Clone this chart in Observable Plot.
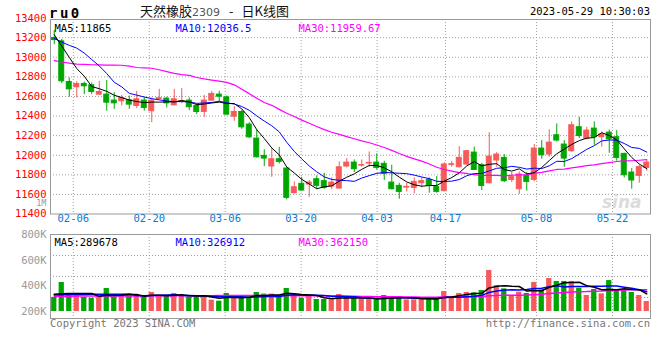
<!DOCTYPE html>
<html><head><meta charset="utf-8">
<script src="https://cdn.jsdelivr.net/npm/d3@7"></script>
<script src="https://cdn.jsdelivr.net/npm/@observablehq/plot@0.6"></script>
<style>
html,body{margin:0;padding:0;background:#fff;}
#wrap{position:relative;width:660px;height:360px;overflow:hidden;font-family:"DejaVu Sans Mono",monospace;}
.abs{position:absolute;white-space:nowrap;line-height:1;}
svg{overflow:visible;}
</style></head><body>
<div id="wrap">
  <div class="abs" style="left:602px;top:192px;font:italic bold 17px 'DejaVu Sans';color:#dcdcdc">sina</div>
  <div id="price" class="abs" style="left:0;top:0"></div>
  <div id="vol" class="abs" style="left:0;top:222px"></div>
  <div class="abs" style="left:49px;top:5px;font:bold 14px 'DejaVu Sans Mono';letter-spacing:2.5px;color:#000">ru0</div>
  <div class="abs" style="left:140px;top:4px;font-size:13px;font-family:'Noto Sans CJK SC';color:#111">天然橡胶<span style="font-family:'DejaVu Sans';font-size:11px;color:#555">2309</span><span style="margin:0 8px 0 9px">-</span>日K线图</div>
  <div class="abs" style="right:10px;top:6px;font-size:10.5px;color:#000">2023-05-29 10:30:03</div>
  <div class="abs" style="left:50px;top:318px;font-size:10.5px;color:#777">Copyright 2023 SINA.COM</div>
  <div class="abs" style="right:10px;top:318px;font-size:10.5px;color:#777">http://finance.sina.com.cn</div>
</div>
<script>
const dates = ["02-01","02-02","02-03","02-06","02-07","02-08","02-09","02-10","02-13","02-14","02-15","02-16","02-17","02-20","02-21","02-22","02-23","02-24","02-27","02-28",
"03-01","03-02","03-03","03-06","03-07","03-08","03-09","03-10","03-13","03-14","03-15","03-16","03-17","03-20","03-21","03-22","03-23","03-24","03-27","03-28","03-29","03-30","03-31",
"04-03","04-04","04-06","04-07","04-10","04-11","04-12","04-13","04-14","04-17","04-18","04-19","04-20","04-21","04-24","04-25","04-26","04-27","04-28",
"05-04","05-05","05-08","05-09","05-10","05-11","05-12","05-15","05-16","05-17","05-18","05-19","05-22","05-23","05-24","05-25","05-26","05-29"];
const open = [13197,13163,12748,12694,12728,12714,12619,12619,12558,12551,12564,12503,12558,12449,12575,12578,12510,12544,12558,12503,
12442,12558,12619,12591,12394,12442,12313,12170,11993,11885,11959,11864,11612,11708,11701,11755,11735,11680,11660,11885,
11925,11894,11915,11925,11912,11721,11687,11670,11667,11714,11748,11674,11633,11902,11878,11905,12027,11898,11714,11946,
11973,11748,11653,11789,11748,12068,12007,12204,12109,12041,12286,12170,12272,12184,12231,12184,12014,11823,11789,11871];
const high = [13275,13183,12789,12748,12748,12738,12755,12762,12639,12612,12605,12653,12592,12585,12673,12592,12673,12680,12585,12524,
12612,12653,12653,12605,12497,12456,12333,12259,12055,12068,12081,11877,11728,11775,11742,11790,11816,11769,11932,11966,
11952,11952,12034,12014,11939,11898,11714,11714,11769,11769,11769,11782,11925,11939,12088,12048,12082,11918,12231,12027,
12007,11823,11830,11823,12109,12150,12258,12320,12150,12340,12388,12286,12340,12238,12258,12252,12020,11864,11898,11946];
const low = [13129,12731,12592,12585,12619,12619,12612,12449,12469,12503,12469,12476,12449,12333,12564,12483,12503,12527,12456,12415,
12387,12551,12544,12408,12347,12265,12170,11973,11885,11775,11912,11545,11606,11633,11571,11653,11653,11647,11653,11871,
11823,11878,11878,11850,11742,11646,11551,11626,11606,11667,11612,11612,11626,11878,11871,11898,11844,11640,11708,11878,
11721,11721,11599,11633,11728,11959,11980,12136,11878,12027,12170,12156,12102,12082,12020,11939,11769,11653,11714,11837];
const close = [13176,12755,12673,12728,12704,12646,12646,12537,12530,12585,12517,12571,12483,12558,12582,12530,12571,12551,12490,12442,
12558,12626,12598,12415,12442,12285,12183,11979,11966,11959,11932,11565,11673,11640,11721,11688,11667,11721,11877,11925,
11857,11900,11922,11871,11810,11653,11626,11677,11728,11735,11687,11626,11905,11908,11973,12041,11850,11687,11986,12007,
11735,11776,11803,11728,12068,12000,12129,12150,11966,12306,12197,12252,12184,12211,12163,11973,11796,11742,11878,11925];
const volume = [310000,427000,338000,323000,310000,304000,317000,380000,312000,325000,333000,317000,312000,349000,320000,317000,341000,325000,312000,312000,
325000,289000,281000,341000,312000,310000,310000,349000,336000,336000,315000,380000,328000,304000,317000,294000,294000,291000,333000,312000,
302000,294000,294000,291000,325000,312000,317000,291000,291000,291000,307000,307000,356000,310000,341000,349000,346000,364000,521000,403000,
377000,325000,351000,341000,427000,369000,458000,435000,435000,435000,382000,325000,372000,338000,442000,372000,364000,349000,325000,278000];
// moving-average values before enough history exists
const ma5Head = [13230,13115,13000,12885];
const ma10Head = [13193,13155,13122,13094,13043,12977,12912,12834,12745];
const ma30Head = [12966,12952,12940,12931,12927,12924,12922,12921,12920,12919,12910,12896,12893,12888,12873,12854,12836,12823,12815,12794,12779,12767,12756,12744,12719,12673,12629,12582,12538];
const vma5Head = [335000,338000,340000,340000];
const vma10Head = [330000,331000,332000,333000,333000,334000,334000,334000,335000];
const vma30Head = [320000,320000,320000,321000,321000,321000,321000,322000,322000,322000,322000,322000,323000,323000,323000,323000,323000,324000,324000,324000,324000,324000,325000,325000,325000,325000,325000,325000,326000];
const priceTicks = [13400,13200,13000,12800,12600,12400,12200,12000,11800,11600,11400];
const priceGrid = [13200,13000,12800,12600,12400,12200,12000,11800,11600];
const volTicks = [800000,600000,400000,200000];
const volTickText = ["800K","600K","400K","200K"];
const tickDates = ["02-06","02-20","03-06","03-20","04-03","04-17","05-08","05-22"];
const priceLegend = ["MA5:11865","MA10:12036.5","MA30:11959.67"];
const volLegend = ["MA5:289678","MA10:326912","MA30:362150"];

const RED = "#f65a5a", GREEN = "#00a600", GRID = "#a0a0a0", FRAME = "#999";
const LEG_COLORS = ["#000", "#0000ff", "#ff00ff"];
const LEG_DX = [4, 125, 248];
const n = dates.length;
function ma(vals, k, head) { return vals.map((v, i) => i < k - 1 ? head[i] : d3.mean(vals.slice(i - k + 1, i + 1))); }
const m5 = ma(close, 5, ma5Head), m10 = ma(close, 10, ma10Head), m30 = ma(close, 30, ma30Head);
const v5 = ma(volume, 5, vma5Head), v10 = ma(volume, 10, vma10Head), v30 = ma(volume, 30, vma30Head);
const rows = dates.map((d, i) => ({i, d, o: open[i], h: high[i], l: low[i], c: close[i], v: volume[i],
  col: close[i] >= open[i] ? RED : GREEN, m5: m5[i], m10: m10[i], m30: m30[i], v5: v5[i], v10: v10[i], v30: v30[i]}));
// the date grid of the original is spaced on n-1 slots across the full width
const gridX = d => dates.indexOf(d) * n / (n - 1) - 0.5;
const xScale = {type: "linear", domain: [-0.5, n - 0.5], axis: null};
const font = "DejaVu Sans Mono";
const legendMarks = (labels, dy) => labels.map((t, i) => Plot.text([t], {frameAnchor: "top-left", dx: LEG_DX[i], dy, textAnchor: "start", fill: LEG_COLORS[i], fontSize: 10.5, text: d => d}));

const price = Plot.plot({
  width: 660, height: 230, marginLeft: 50, marginRight: 10, marginTop: 19, marginBottom: 16.5,
  style: {fontFamily: font, background: "transparent", overflow: "visible"},
  x: xScale,
  y: {domain: [11400, 13386], axis: null},
  color: {type: "identity"},
  marks: [
    Plot.ruleY(priceGrid, {stroke: GRID, strokeDasharray: "1,2"}),
    Plot.ruleX(tickDates, {x: gridX, stroke: GRID, strokeDasharray: "1,2"}),
    Plot.ruleX(rows, {x: "i", y1: "l", y2: "h", stroke: "col", strokeWidth: 1}),
    Plot.rect(rows, {x1: d => d.i - 0.33, x2: d => d.i + 0.33, y1: "o", y2: "c", fill: "col", stroke: "col", strokeWidth: 1}),
    Plot.line(rows, {x: "i", y: "m30", stroke: "#ff00ff", strokeWidth: 1.2}),
    Plot.line(rows, {x: "i", y: "m10", stroke: "#0000ff", strokeWidth: 1}),
    Plot.line(rows, {x: "i", y: "m5", stroke: "#000", strokeWidth: 1}),
    Plot.frame({stroke: FRAME}),
    Plot.text(priceTicks, {y: d => d, frameAnchor: "left", dx: -4, textAnchor: "end", fill: "#ff0000", fontSize: 10.5, text: d => String(d)}),
    Plot.text(tickDates, {x: gridX, frameAnchor: "bottom", dy: 8, fill: "#0a78d0", fontSize: 10.5, text: d => d}),
    Plot.text(["1M"], {frameAnchor: "bottom-left", dx: -4, dy: -8, textAnchor: "end", fill: "#999", fontSize: 8.5, text: d => d}),
    ...legendMarks(priceLegend, 5)
  ]
});
document.getElementById("price").appendChild(price);

const volDomain = [145300, 802100];
const volGrid = [0.25, 0.5, 0.75].map(q => volDomain[0] + q * (volDomain[1] - volDomain[0]));
const vol = Plot.plot({
  width: 660, height: 108, marginLeft: 50, marginRight: 10, marginTop: 12, marginBottom: 12,
  style: {fontFamily: font, background: "transparent", overflow: "visible"},
  x: xScale,
  y: {domain: volDomain, axis: null},
  color: {type: "identity"},
  marks: [
    Plot.ruleY(volGrid, {stroke: GRID, strokeDasharray: "1,2"}),
    Plot.ruleX(tickDates, {x: gridX, stroke: GRID, strokeDasharray: "1,2"}),
    Plot.rect(rows, {x1: d => d.i - 0.35, x2: d => d.i + 0.35, y1: 200000, y2: "v", fill: "col"}),
    Plot.line(rows, {x: "i", y: "v30", stroke: "#ff00ff", strokeWidth: 1.5}),
    Plot.line(rows, {x: "i", y: "v10", stroke: "#0000ff", strokeWidth: 1.5}),
    Plot.line(rows, {x: "i", y: "v5", stroke: "#000", strokeWidth: 1.5}),
    Plot.frame({stroke: FRAME}),
    Plot.text(volTicks, {y: d => d, frameAnchor: "left", dx: -4, textAnchor: "end", fill: "#999", fontSize: 10.5, text: (d, i) => volTickText[i]}),
    ...legendMarks(volLegend, 4)
  ]
});
document.getElementById("vol").appendChild(vol);
</script>
</body></html>
